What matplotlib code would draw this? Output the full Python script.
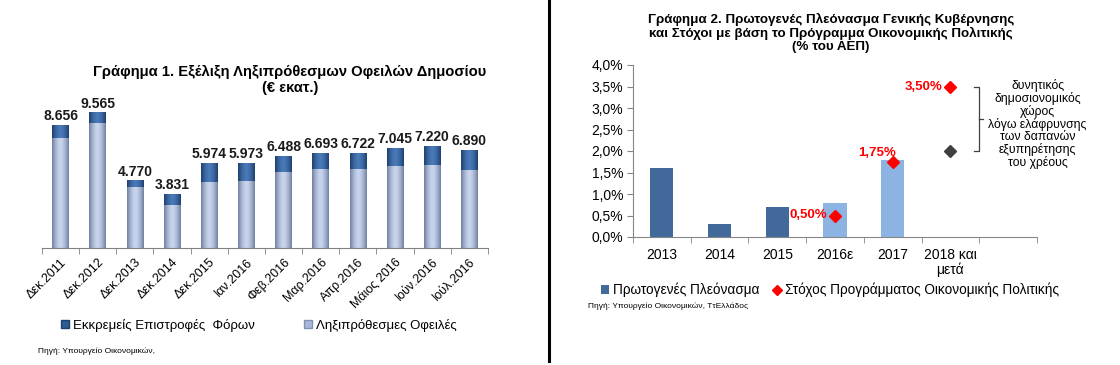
import matplotlib.pyplot as plt
import numpy as np
from matplotlib.lines import Line2D
from matplotlib.patches import Patch

plt.rcParams['font.family'] = ['Liberation Sans', 'DejaVu Sans']

# ---- Chart 1 data (million EUR)
months = ['Δεκ.2011', 'Δεκ.2012', 'Δεκ.2013', 'Δεκ.2014', 'Δεκ.2015', 'Ιαν.2016',
          'Φεβ.2016', 'Μαρ.2016', 'Απρ.2016', 'Μάιος 2016', 'Ιούν.2016', 'Ιούλ.2016']
totals = [8656, 9565, 4770, 3831, 5974, 5973, 6488, 6693, 6722, 7045, 7220, 6890]
tax_refunds = [920, 780, 470, 820, 1340, 1220, 1100, 1130, 1130, 1270, 1360, 1380]
arrears = [t - r for t, r in zip(totals, tax_refunds)]

# ---- Chart 2 data (% of GDP)
years = ['2013', '2014', '2015', '2016ε', '2017', '2018 και\nμετά', '']
surplus = [1.6, 0.3, 0.7, 0.8, 1.78, np.nan, np.nan]
surplus_estimate = [False, False, False, True, True, False, False]
targets = [np.nan, np.nan, np.nan, 0.5, 1.75, 3.5, np.nan]
target_labels = ['', '', '', '0,50%', '1,75%', '3,50%', '']
alt_target = [np.nan, np.nan, np.nan, np.nan, np.nan, 2.0, np.nan]

dark_blue = '#41699a'
light_blue = '#8db3e2'

fig = plt.figure(figsize=(11.2, 3.65), dpi=100)
fig.patch.set_facecolor('white')

# separator line
fig.add_artist(Line2D([549 / 1120, 549 / 1120], [0.01, 1.0], color='black', lw=2.2))

# ================= Chart 1 =================
ax1 = fig.add_axes([42 / 1120, 117 / 365, 446 / 1120, 156 / 365])
x = np.arange(len(months))
w = 0.45


def gradient_fill(ax, patches, c_edge, c_mid):
    # horizontal shading to mimic cylinders
    t = np.linspace(-1, 1, 64)
    k = 1 - np.abs(t) ** 1.6
    ce = np.array(plt.matplotlib.colors.to_rgb(c_edge))
    cm = np.array(plt.matplotlib.colors.to_rgb(c_mid))
    img = (ce[None, :] * (1 - k[:, None]) + cm[None, :] * k[:, None])[None, :, :]
    for p in patches:
        bx, by = p.get_x(), p.get_y()
        bw, bh = p.get_width(), p.get_height()
        im = ax.imshow(img, extent=[bx, bx + bw, by, by + bh], aspect='auto',
                       zorder=p.get_zorder() + 0.1, interpolation='bilinear')
        im.set_clip_path(p)


b_low = ax1.bar(x, arrears, w, color='#a9b8d8', zorder=2, label='Ληξιπρόθεσμες Οφειλές')
b_top = ax1.bar(x, tax_refunds, w, bottom=arrears, color='#2f5b94', zorder=2,
                label='Εκκρεμείς Επιστροφές  Φόρων')
gradient_fill(ax1, b_low, '#6f7f9f', '#c9d5ee')
gradient_fill(ax1, b_top, '#1d3f6e', '#4a7ab8')

for xi, t in zip(x, totals):
    ax1.text(xi, t + 130, f'{t:,}'.replace(',', '.'), ha='center', va='bottom',
             fontsize=10, fontweight='bold', color='#1a1a1a')

ax1.set_xlim(-0.5, len(months) - 0.5)
ax1.set_ylim(0, 11000)
for s in ['top', 'right', 'left']:
    ax1.spines[s].set_visible(False)
ax1.spines['bottom'].set_color('#808080')
ax1.set_yticks([])
ax1.set_xticks(x)
ax1.set_xticklabels(months, rotation=45, ha='right', rotation_mode='anchor', fontsize=9)
ax1.tick_params(axis='x', which='major', length=0, pad=6)
ax1.set_xticks(np.arange(-0.5, len(months), 1), minor=True)
ax1.tick_params(axis='x', which='minor', length=4, color='#808080')

fig.text(290 / 1120, 1 - 72 / 365, 'Γράφημα 1. Εξέλιξη Ληξιπρόθεσμων Οφειλών Δημοσίου',
         ha='center', va='center', fontsize=10.6, fontweight='bold')
fig.text(290 / 1120, 1 - 88 / 365, '(€ εκατ.)', ha='center', va='center',
         fontsize=10.6, fontweight='bold')

leg1 = fig.legend(handles=[Patch(facecolor='#2f5b94', edgecolor='#1d3f6e'),
                           Patch(facecolor='#a9b8d8', edgecolor='#8090b0')],
                  labels=['Εκκρεμείς Επιστροφές  Φόρων', 'Ληξιπρόθεσμες Οφειλές'],
                  loc='center', bbox_to_anchor=(259 / 1120, 1 - 325 / 365), ncol=2,
                  frameon=False, fontsize=9.5, handlelength=0.6, handleheight=0.6,
                  handletextpad=0.3, columnspacing=3.7)
fig.text(38 / 1120, 1 - 351 / 365, 'Πηγή: Υπουργείο Οικονομικών,', fontsize=6,
         va='center', ha='left')

# ================= Chart 2 =================
ax2 = fig.add_axes([633 / 1120, 128 / 365, 404 / 1120, 172 / 365])
x2 = np.arange(len(years))
bar_colors = [light_blue if e else dark_blue for e in surplus_estimate]
ax2.bar(x2, surplus, 0.4, color=bar_colors, zorder=2)
ax2.plot(x2, targets, linestyle='none', marker='D', color='#ff0000', markersize=6.5, zorder=3)
ax2.plot(x2, alt_target, linestyle='none', marker='D', color='#404040', markersize=6, zorder=3)

for xi, v, lab in zip(x2, targets, target_labels):
    if not lab:
        continue
    if lab == '1,75%':
        ax2.annotate(lab, (xi, v), xytext=(2, 2), textcoords='offset points',
                     ha='right', va='bottom', fontsize=9.5, fontweight='bold',
                     color='#ff0000', zorder=2.5)
    else:
        ax2.annotate(lab, (xi, v), xytext=(-6, 0), textcoords='offset points',
                     ha='right', va='center', fontsize=9.5, fontweight='bold', color='#ff0000')

# bracket between the two 2018 points
bx = 5.0 + 0.5
ax2.plot([bx - 0.09, bx, bx, bx - 0.09], [3.5, 3.5, 2.0, 2.0], color='#404040', lw=0.9,
         clip_on=False)
ax2.plot([bx, bx + 0.07], [2.75, 2.75], color='#404040', lw=0.9, clip_on=False)
ax2.text(6.51, 2.62, 'δυνητικός\nδημοσιονομικός\nχώρος\nλόγω ελάφρυνσης\nτων δαπανών\n'
         'εξυπηρέτησης\nτου χρέους', ha='center', va='center', fontsize=8.8,
         linespacing=1.0, clip_on=False)

ax2.set_xlim(-0.5, len(years) - 0.5)
ax2.set_ylim(0, 4.0)
ax2.set_yticks(np.arange(0, 4.01, 0.5))
ax2.set_yticklabels([f'{v:.1f}%'.replace('.', ',') for v in np.arange(0, 4.01, 0.5)],
                    fontsize=10)
ax2.set_xticks(x2)
ax2.set_xticklabels(years, fontsize=10, va='top', linespacing=1.05)
ax2.tick_params(axis='x', which='major', length=0, pad=8)
ax2.set_xticks(np.arange(-0.5, len(years), 1), minor=True)
ax2.tick_params(axis='x', which='minor', length=4, color='#868686')
ax2.tick_params(axis='y', length=4, color='#868686', pad=3)
for s in ['top', 'right']:
    ax2.spines[s].set_visible(False)
ax2.spines['left'].set_color('#868686')
ax2.spines['bottom'].set_color('#868686')

fig.text(831 / 1120, 1 - 33 / 365,
         'Γράφημα 2. Πρωτογενές Πλεόνασμα Γενικής Κυβέρνησης\n'
         'και Στόχοι με βάση το Πρόγραμμα Οικονομικής Πολιτικής\n(% του ΑΕΠ)',
         ha='center', va='center', fontsize=9.6, fontweight='bold', linespacing=1.1)

leg2 = fig.legend(handles=[Patch(facecolor=dark_blue),
                           Line2D([], [], linestyle='none', marker='D', color='#ff0000',
                                  markersize=5)],
                  labels=['Πρωτογενές Πλεόνασμα', 'Στόχος Προγράμματος Οικονομικής Πολιτικής'],
                  loc='center', bbox_to_anchor=(830 / 1120, 1 - 290 / 365), ncol=2,
                  frameon=False, fontsize=9.8, handlelength=0.6, handleheight=0.6,
                  handletextpad=0.3, columnspacing=1.0)
fig.text(588 / 1120, 1 - 306 / 365, 'Πηγή: Υπουργείο Οικονομικών, ΤτΕλλάδος', fontsize=6,
         va='center', ha='left')

fig.savefig('out.png', dpi=100, facecolor='white')
